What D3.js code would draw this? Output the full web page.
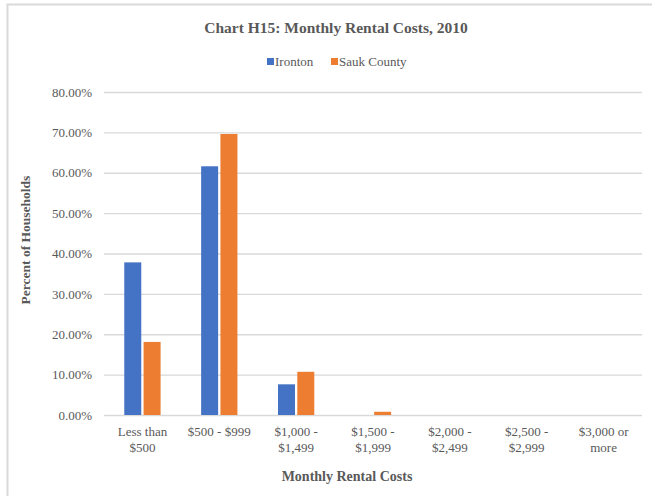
<!DOCTYPE html>
<html>
<head>
<meta charset="utf-8">
<script src="https://cdn.jsdelivr.net/npm/d3@7"></script>
<style>
  body { margin: 0; background: #fff; }
  svg text { font-family: "Liberation Serif", "Times New Roman", serif; }
</style>
</head>
<body>
<div id="chart"></div>
<script>
let width = 652,
    height = 496

let categories = ["Less than $500", "$500 - $999", "$1,000 - $1,499", "$1,500 - $1,999",
                  "$2,000 - $2,499", "$2,500 - $2,999", "$3,000 or more"]
let tickLabels = [["Less than", "$500"], ["$500 - $999"], ["$1,000 -", "$1,499"], ["$1,500 -", "$1,999"],
                  ["$2,000 -", "$2,499"], ["$2,500 -", "$2,999"], ["$3,000 or", "more"]]
let ironton = [37.8, 61.6, 7.6, 0, 0, 0, 0]
let saukCounty = [18.1, 69.6, 10.7, 0.8, 0, 0, 0]
let seriesNames = ["Ironton", "Sauk County"]
let yTicks = [0, 10, 20, 30, 40, 50, 60, 70, 80]

let margin = {top: 92, right: 10, bottom: 81, left: 104}

let color = d3.scaleOrdinal()
  .domain(seriesNames)
  .range(["#4472C4", "#ED7D31"])

let svg = d3.select("#chart")
  .append("svg")
    .attr("width", width)
    .attr("height", height)

// chart frame (right edge runs off the page)
svg.append("path")
  .attr("d", "M7.5," + height + "V4.5H" + width)
  .attr("fill", "none")
  .attr("stroke", "#d9d9d9")
  .attr("stroke-width", 2)

let x = d3.scaleBand()
  .domain(categories)
  .range([margin.left, width - margin.right])

let x1 = d3.scaleBand()
  .domain(seriesNames)
  .range([0, x.bandwidth()])
  .paddingInner(0.12)
  .paddingOuter(1.05)

let y = d3.scaleLinear()
  .domain([0, 80])
  .range([height - margin.bottom, margin.top])

// gridlines + y labels
let yAxis = svg.append("g")
  .attr("transform", "translate(" + margin.left + ",0)")
  .call(d3.axisLeft(y)
    .tickValues(yTicks)
    .tickSize(-(width - margin.right - margin.left))
    .tickPadding(12)
    .tickFormat(d => d3.format(".2f")(d) + "%"))
yAxis.attr("font-family", null)
yAxis.select(".domain").remove()
yAxis.selectAll(".tick line")
  .attr("stroke", "#d9d9d9")
  .attr("stroke-width", 1.3)
yAxis.selectAll(".tick text")
  .attr("fill", "#595959")
  .style("font-size", "13px")

let rows = categories.map((c, i) => ({cat: c, values: [
  {name: seriesNames[0], value: ironton[i]},
  {name: seriesNames[1], value: saukCounty[i]}
]}))

let groups = svg.selectAll(".group")
  .data(rows)
  .enter()
  .append("g")
    .attr("transform", d => "translate(" + x(d.cat) + ",0)")

groups.selectAll("rect")
  .data(d => d.values.filter(v => v.value > 0))
  .enter()
  .append("rect")
    .attr("x", d => x1(d.name))
    .attr("width", x1.bandwidth())
    .attr("y", d => y(d.value))
    .attr("height", d => y(0) - y(d.value))
    .attr("fill", d => color(d.name))

// x labels
let xAxis = svg.append("g")
  .attr("transform", "translate(0," + (height - margin.bottom) + ")")
xAxis.selectAll("text")
  .data(categories)
  .enter()
  .append("text")
    .attr("x", d => x(d) + x.bandwidth() / 2)
    .attr("y", 21)
    .attr("text-anchor", "middle")
    .attr("fill", "#595959")
    .style("font-size", "13px")
    .each(function(d, i) {
      d3.select(this).selectAll("tspan")
        .data(tickLabels[i])
        .enter()
        .append("tspan")
          .attr("x", x(d) + x.bandwidth() / 2)
          .attr("dy", (t, j) => j === 0 ? 0 : 16)
          .text(t => t)
    })

// titles
svg.append("text")
  .attr("x", 336)
  .attr("y", 33)
  .attr("text-anchor", "middle")
  .attr("fill", "#595959")
  .style("font-size", "15.5px")
  .style("font-weight", "bold")
  .text("Chart H15: Monthly Rental Costs, 2010")

svg.append("text")
  .attr("x", 347)
  .attr("y", 481)
  .attr("text-anchor", "middle")
  .attr("fill", "#595959")
  .style("font-size", "14px")
  .style("font-weight", "bold")
  .text("Monthly Rental Costs")

svg.append("text")
  .attr("transform", "translate(30,240) rotate(-90)")
  .attr("text-anchor", "middle")
  .attr("fill", "#595959")
  .style("font-size", "13.5px")
  .style("font-weight", "bold")
  .text("Percent of Households")

// legend
let legend = svg.append("g")
  .attr("transform", "translate(267,62)")
let legendX = [0, 64]
legend.selectAll("rect")
  .data(seriesNames)
  .enter()
  .append("rect")
    .attr("x", (d, i) => legendX[i])
    .attr("y", -4)
    .attr("width", 7)
    .attr("height", 7)
    .attr("fill", d => color(d))
legend.selectAll("text")
  .data(seriesNames)
  .enter()
  .append("text")
    .attr("x", (d, i) => legendX[i] + 8)
    .attr("y", 4)
    .attr("fill", "#595959")
    .style("font-size", "13px")
    .text(d => d)
</script>
</body>
</html>
